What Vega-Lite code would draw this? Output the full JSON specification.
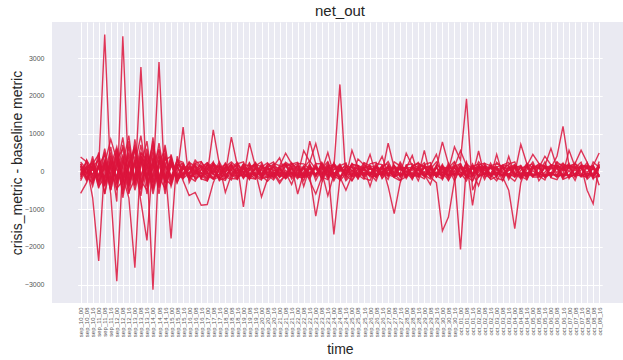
{
  "$schema": "https://vega.github.io/schema/vega-lite/v6.json",
  "width": 576,
  "height": 281,
  "autosize": {"type": "none"},
  "padding": {"left": 52, "top": 22, "right": 0, "bottom": 57},
  "background": "white",
  "title": {"text": "net_out", "fontSize": 15, "font": "Liberation Sans", "fontWeight": "normal", "color": "#262626", "offset": 3},
  "data": {"values": [
    {"t":"sep_10_00","a":380,"b":-585,"c":120,"d":-90,"e":60,"f":-150,"g":200,"h":30,"i":-40,"j":90,"k":-120,"l":150,"m":-60,"n":10,"o":250,"p":-200,"q":150,"r":-100,"s":200,"u":-250},
    {"t":"sep_10_08","a":250,"b":-300,"c":-80,"d":150,"e":-250,"f":100,"g":-60,"h":220,"i":80,"j":-150,"k":40,"l":-200,"m":130,"n":-30,"o":60,"p":300,"q":-200,"r":300,"s":-150,"u":100},
    {"t":"sep_10_16","a":-150,"b":200,"c":300,"d":-700,"e":120,"f":-300,"g":180,"h":-100,"i":250,"j":60,"k":-400,"l":90,"m":-220,"n":150,"o":-80,"p":40,"q":400,"r":-250,"s":-300,"u":200},
    {"t":"sep_11_00","a":100,"b":450,"c":-250,"d":-2377,"e":300,"f":150,"g":-450,"h":350,"i":-120,"j":-300,"k":200,"l":-150,"m":80,"n":-250,"o":180,"p":-100,"q":-350,"r":500,"s":150,"u":-400},
    {"t":"sep_11_08","a":3630,"b":-400,"c":500,"d":200,"e":-300,"f":-600,"g":250,"h":-200,"i":600,"j":150,"k":-250,"l":300,"m":-150,"n":100,"o":-350,"p":220,"q":250,"r":-600,"s":450,"u":-150},
    {"t":"sep_11_16","a":-200,"b":300,"c":-600,"d":850,"e":150,"f":400,"g":-300,"h":500,"i":-200,"j":-500,"k":300,"l":-100,"m":250,"n":-400,"o":120,"p":-250,"q":-500,"r":200,"s":-350,"u":650},
    {"t":"sep_12_00","a":500,"b":-800,"c":-2915,"d":300,"e":650,"f":-200,"g":400,"h":-350,"i":100,"j":250,"k":-150,"l":600,"m":-300,"n":200,"o":-500,"p":80,"q":300,"r":-450,"s":550,"u":-300},
    {"t":"sep_12_08","a":-350,"b":3580,"c":200,"d":-500,"e":-150,"f":700,"g":-600,"h":300,"i":900,"j":-200,"k":450,"l":-300,"m":150,"n":-100,"o":300,"p":-400,"q":600,"r":-250,"s":-700,"u":400},
    {"t":"sep_12_16","a":800,"b":-300,"c":950,"d":150,"e":-700,"f":-100,"g":300,"h":-450,"i":-250,"j":500,"k":-350,"l":250,"m":-600,"n":400,"o":-150,"p":200,"q":-400,"r":650,"s":200,"u":-550},
    {"t":"sep_13_00","a":-400,"b":600,"c":-300,"d":700,"e":-2553,"f":250,"g":-150,"h":850,"i":300,"j":-350,"k":200,"l":-500,"m":400,"n":-200,"o":600,"p":-300,"q":200,"r":-300,"s":600,"u":-200},
    {"t":"sep_13_08","a":300,"b":-500,"c":2765,"d":-350,"e":400,"f":-800,"g":700,"h":-200,"i":-450,"j":300,"k":950,"l":150,"m":-250,"n":500,"o":-100,"p":350,"q":-650,"r":400,"s":-250,"u":500},
    {"t":"sep_13_16","a":-250,"b":200,"c":-400,"d":500,"e":150,"f":-1830,"g":-300,"h":600,"i":350,"j":-600,"k":-200,"l":800,"m":100,"n":-350,"o":250,"p":-150,"q":450,"r":-200,"s":-500,"u":300},
    {"t":"sep_14_00","a":600,"b":-3135,"c":300,"d":-200,"e":-500,"f":400,"g":900,"h":-300,"i":-150,"j":200,"k":500,"l":-400,"m":700,"n":100,"o":-600,"p":250,"q":-300,"r":800,"s":350,"u":-450},
    {"t":"sep_14_08","a":-300,"b":400,"c":-600,"d":2900,"e":300,"f":-250,"g":-400,"h":450,"i":750,"j":-300,"k":-150,"l":250,"m":-200,"n":600,"o":150,"p":-450,"q":550,"r":-350,"s":-150,"u":200},
    {"t":"sep_14_16","a":200,"b":-200,"c":400,"d":-500,"e":-300,"f":700,"g":150,"h":-600,"i":-200,"j":400,"k":300,"l":-150,"m":500,"n":-300,"o":-250,"p":150,"q":-200,"r":250,"s":-450,"u":600},
    {"t":"sep_15_00","a":-150,"b":300,"c":-200,"d":250,"e":450,"f":-300,"g":-1780,"h":200,"i":-350,"j":-150,"k":400,"l":300,"m":-250,"n":150,"o":350,"p":-200,"q":300,"r":-400,"s":200,"u":-300},
    {"t":"sep_15_08","a":300,"b":-150,"c":150,"d":-300,"e":-200,"f":250,"g":400,"h":-100,"i":200,"j":150,"k":-300,"l":-200,"m":100,"n":-150,"o":-100,"p":300,"q":-100,"r":150,"s":-250,"u":180},
    {"t":"sep_15_16","a":-100,"b":150,"c":-200,"d":100,"e":-50,"f":200,"g":-150,"h":1175,"i":80,"j":-250,"k":120,"l":60,"m":-80,"n":180,"o":-120,"p":240,"q":-180,"r":200,"s":-60,"u":130},
    {"t":"sep_16_00","a":120,"b":-80,"c":150,"d":-200,"e":100,"f":-120,"g":250,"h":-300,"i":-60,"j":-640,"k":-150,"l":200,"m":50,"n":-100,"o":80,"p":-200,"q":-60,"r":-150,"s":240,"u":-220},
    {"t":"sep_16_08","a":60,"b":220,"c":-30,"d":40,"e":-180,"f":160,"g":-90,"h":10,"i":300,"j":-560,"k":-70,"l":-210,"m":130,"n":-140,"o":30,"p":-20,"q":220,"r":-260,"s":130,"u":180},
    {"t":"sep_16_16","a":170,"b":90,"c":-140,"d":-60,"e":-40,"f":-200,"g":140,"h":-160,"i":120,"j":-900,"k":250,"l":-90,"m":-180,"n":60,"o":-130,"p":110,"q":260,"r":40,"s":-200,"u":-40},
    {"t":"sep_17_00","a":-30,"b":-120,"c":180,"d":160,"e":-210,"f":70,"g":-20,"h":90,"i":-80,"j":-880,"k":60,"l":-250,"m":190,"n":-150,"o":-40,"p":230,"q":-40,"r":230,"s":-250,"u":-190},
    {"t":"sep_17_08","a":210,"b":-200,"c":50,"d":-90,"e":60,"f":-80,"g":-160,"h":240,"i":1100,"j":-300,"k":180,"l":20,"m":-30,"n":140,"o":-200,"p":-60,"q":-210,"r":100,"s":180,"u":250},
    {"t":"sep_17_16","a":90,"b":40,"c":-230,"d":-150,"e":150,"f":250,"g":-70,"h":-40,"i":200,"j":80,"k":-200,"l":-110,"m":170,"n":-10,"o":120,"p":-170,"q":-150,"r":-180,"s":60,"u":-240},
    {"t":"sep_18_00","a":-160,"b":-20,"c":-180,"d":120,"e":-30,"f":-60,"g":200,"h":-200,"i":-120,"j":190,"k":-50,"l":220,"m":-560,"n":100,"o":30,"p":-100,"q":120,"r":-240,"s":-130,"u":70},
    {"t":"sep_18_08","a":-70,"b":180,"c":140,"d":20,"e":200,"f":-190,"g":-150,"h":130,"i":60,"j":-100,"k":910,"l":-40,"m":-90,"n":-80,"o":160,"p":90,"q":250,"r":60,"s":-230,"u":200},
    {"t":"sep_18_16","a":40,"b":-150,"c":-60,"d":200,"e":-140,"f":-200,"g":30,"h":-30,"i":-210,"j":120,"k":150,"l":80,"m":-200,"n":-130,"o":-80,"p":240,"q":90,"r":190,"s":200,"u":-160},
    {"t":"sep_19_00","a":-150,"b":-90,"c":200,"d":-80,"e":110,"f":180,"g":-10,"h":120,"i":100,"j":-150,"k":-945,"l":-170,"m":60,"n":70,"o":180,"p":-30,"q":-190,"r":-30,"s":250,"u":-50},
    {"t":"sep_19_08","a":30,"b":140,"c":-150,"d":-180,"e":-120,"f":150,"g":80,"h":-100,"i":-200,"j":-40,"k":200,"l":750,"m":-120,"n":80,"o":-210,"p":-150,"q":30,"r":-210,"s":-80,"u":230},
    {"t":"sep_19_16","a":190,"b":150,"c":100,"d":-200,"e":-20,"f":-100,"g":220,"h":200,"i":-60,"j":-120,"k":-100,"l":120,"m":60,"n":-150,"o":120,"p":70,"q":240,"r":150,"s":-200,"u":-140},
    {"t":"sep_20_00","a":120,"b":-60,"c":-160,"d":80,"e":-680,"f":30,"g":-120,"h":-80,"i":150,"j":60,"k":-190,"l":-150,"m":-80,"n":200,"o":-60,"p":-200,"q":-120,"r":250,"s":110,"u":-230},
    {"t":"sep_20_08","a":-110,"b":80,"c":40,"d":120,"e":-200,"f":-150,"g":200,"h":-170,"i":-30,"j":-80,"k":-150,"l":100,"m":150,"n":-100,"o":-20,"p":80,"q":-260,"r":-90,"s":230,"u":160},
    {"t":"sep_20_16","a":-20,"b":-190,"c":120,"d":180,"e":-40,"f":210,"g":90,"h":-60,"i":110,"j":-160,"k":30,"l":-80,"m":-150,"n":140,"o":-120,"p":40,"q":-80,"r":-230,"s":-20,"u":250},
    {"t":"sep_21_00","a":-150,"b":60,"c":80,"d":-160,"e":-100,"f":150,"g":-20,"h":-320,"i":-150,"j":120,"k":-60,"l":110,"m":100,"n":360,"o":80,"p":-50,"q":150,"r":20,"s":-260,"u":-90},
    {"t":"sep_21_08","a":140,"b":-60,"c":-200,"d":30,"e":150,"f":480,"g":-100,"h":-80,"i":-40,"j":180,"k":200,"l":-120,"m":190,"n":-70,"o":-150,"p":-180,"q":210,"r":240,"s":-100,"u":-180},
    {"t":"sep_21_16","a":210,"b":120,"c":-40,"d":-150,"e":-80,"f":200,"g":80,"h":-150,"i":-350,"j":-200,"k":-100,"l":-30,"m":120,"n":-60,"o":100,"p":60,"q":-30,"r":130,"s":190,"u":230},
    {"t":"sep_22_00","a":60,"b":-600,"c":-100,"d":200,"e":-110,"f":-80,"g":-150,"h":40,"i":100,"j":-20,"k":150,"l":-100,"m":210,"n":-130,"o":-120,"p":130,"q":-200,"r":-170,"s":240,"u":10},
    {"t":"sep_22_08","a":-120,"b":-30,"c":550,"d":-400,"e":-60,"f":120,"g":-170,"h":80,"i":-100,"j":-150,"k":-120,"l":150,"m":200,"n":-100,"o":80,"p":100,"q":100,"r":-50,"s":-140,"u":-250},
    {"t":"sep_22_16","a":-20,"b":-200,"c":250,"d":120,"e":800,"f":-150,"g":-100,"h":-120,"i":150,"j":100,"k":80,"l":-80,"m":60,"n":120,"o":-100,"p":-250,"q":280,"r":200,"s":-40,"u":170},
    {"t":"sep_23_00","a":-100,"b":120,"c":740,"d":-120,"e":200,"f":150,"g":120,"h":-1190,"i":-80,"j":-100,"k":-150,"l":100,"m":80,"n":-80,"o":150,"p":-600,"q":60,"r":-240,"s":210,"u":-110},
    {"t":"sep_23_08","a":120,"b":-40,"c":100,"d":210,"e":200,"f":-200,"g":-80,"h":-300,"i":20,"j":150,"k":90,"l":-120,"m":-10,"n":150,"o":-80,"p":-150,"q":-150,"r":80,"s":-230,"u":240},
    {"t":"sep_23_16","a":60,"b":150,"c":-120,"d":-30,"e":-150,"f":100,"g":230,"h":100,"i":500,"j":-80,"k":-200,"l":180,"m":-650,"n":-120,"o":40,"p":100,"q":-220,"r":260,"s":120,"u":-30},
    {"t":"sep_24_00","a":100,"b":-80,"c":210,"d":200,"e":-20,"f":-1670,"g":-120,"h":50,"i":-100,"j":-60,"k":150,"l":-150,"m":-80,"n":230,"o":-150,"p":-250,"q":40,"r":-130,"s":180,"u":-200},
    {"t":"sep_24_08","a":2305,"b":120,"c":30,"d":-150,"e":-200,"f":-200,"g":90,"h":150,"i":170,"j":-150,"k":-10,"l":60,"m":120,"n":-150,"o":100,"p":80,"q":190,"r":-210,"s":-250,"u":150},
    {"t":"sep_24_16","a":-200,"b":-50,"c":150,"d":-500,"e":60,"f":100,"g":-100,"h":-120,"i":-150,"j":40,"k":200,"l":-100,"m":-250,"n":120,"o":-80,"p":20,"q":-100,"r":110,"s":-60,"u":220},
    {"t":"sep_25_00","a":30,"b":180,"c":100,"d":-100,"e":-120,"f":-40,"g":-60,"h":210,"i":560,"j":-120,"k":-150,"l":120,"m":-60,"n":10,"o":150,"p":-110,"q":-250,"r":30,"s":200,"u":-240},
    {"t":"sep_25_08","a":-100,"b":160,"c":70,"d":150,"e":-90,"f":-100,"g":-20,"h":-80,"i":100,"j":330,"k":-60,"l":-150,"m":-120,"n":150,"o":-200,"p":60,"q":-20,"r":-190,"s":130,"u":80},
    {"t":"sep_25_16","a":150,"b":80,"c":-150,"d":20,"e":-210,"f":120,"g":100,"h":-30,"i":-100,"j":170,"k":90,"l":60,"m":-70,"n":-80,"o":80,"p":-40,"q":230,"r":220,"s":-180,"u":-120},
    {"t":"sep_26_00","a":60,"b":-150,"c":100,"d":450,"e":120,"f":50,"g":-120,"h":-100,"i":-20,"j":120,"k":150,"l":-80,"m":-100,"n":-40,"o":-400,"p":-80,"q":150,"r":-60,"s":-240,"u":200},
    {"t":"sep_26_08","a":40,"b":-120,"c":-120,"d":-100,"e":-100,"f":100,"g":150,"h":120,"i":-150,"j":-80,"k":80,"l":150,"m":20,"n":-150,"o":120,"p":210,"q":-180,"r":-250,"s":90,"u":240},
    {"t":"sep_26_16","a":-100,"b":-20,"c":-50,"d":150,"e":-60,"f":-120,"g":-180,"h":60,"i":100,"j":150,"k":400,"l":-20,"m":-80,"n":120,"o":-100,"p":180,"q":80,"r":140,"s":-30,"u":-190},
    {"t":"sep_27_00","a":150,"b":100,"c":750,"d":-120,"e":-120,"f":150,"g":60,"h":100,"i":-120,"j":-400,"k":-100,"l":100,"m":150,"n":-100,"o":-30,"p":-90,"q":260,"r":200,"s":-210,"u":40},
    {"t":"sep_27_08","a":-40,"b":-150,"c":100,"d":100,"e":150,"f":-100,"g":-150,"h":-20,"i":150,"j":-1120,"k":120,"l":-150,"m":30,"n":150,"o":-120,"p":-150,"q":-60,"r":-100,"s":250,"u":-160},
    {"t":"sep_27_16","a":100,"b":200,"c":60,"d":-150,"e":30,"f":-80,"g":100,"h":150,"i":-100,"j":-300,"k":-150,"l":-40,"m":100,"n":-120,"o":100,"p":-60,"q":-230,"r":250,"s":140,"u":-250},
    {"t":"sep_28_00","a":90,"b":-100,"c":-20,"d":120,"e":120,"f":-150,"g":-120,"h":-100,"i":20,"j":150,"k":100,"l":-100,"m":-150,"n":100,"o":-150,"p":480,"q":-140,"r":-30,"s":-190,"u":170},
    {"t":"sep_28_08","a":420,"b":-30,"c":80,"d":-100,"e":-150,"f":100,"g":150,"h":-60,"i":-150,"j":-100,"k":-220,"l":150,"m":120,"n":90,"o":120,"p":150,"q":110,"r":-200,"s":60,"u":200},
    {"t":"sep_28_16","a":-100,"b":-150,"c":150,"d":60,"e":100,"f":-120,"g":210,"h":-150,"i":-60,"j":120,"k":150,"l":30,"m":-100,"n":50,"o":-100,"p":200,"q":240,"r":80,"s":-250,"u":-100},
    {"t":"sep_29_00","a":-40,"b":100,"c":120,"d":-120,"e":-30,"f":150,"g":120,"h":100,"i":-120,"j":-150,"k":-100,"l":-80,"m":150,"n":-100,"o":556,"p":120,"q":-90,"r":230,"s":180,"u":-200},
    {"t":"sep_29_08","a":-120,"b":140,"c":100,"d":100,"e":150,"f":60,"g":-150,"h":-120,"i":150,"j":20,"k":120,"l":-350,"m":-120,"n":-30,"o":-120,"p":-50,"q":-200,"r":-150,"s":230,"u":60},
    {"t":"sep_29_16","a":100,"b":450,"c":-150,"d":-150,"e":-100,"f":-60,"g":-300,"h":150,"i":-100,"j":-120,"k":-150,"l":120,"m":-20,"n":-120,"o":100,"p":100,"q":170,"r":-60,"s":-120,"u":250},
    {"t":"sep_30_00","a":780,"b":-120,"c":120,"d":-20,"e":100,"f":-100,"g":-1580,"h":-220,"i":150,"j":60,"k":120,"l":-150,"m":-30,"n":150,"o":-120,"p":-150,"q":50,"r":190,"s":-200,"u":-30},
    {"t":"sep_30_08","a":200,"b":30,"c":80,"d":-100,"e":-120,"f":150,"g":-1210,"h":100,"i":-40,"j":-150,"k":-100,"l":220,"m":150,"n":-100,"o":100,"p":20,"q":-160,"r":-240,"s":90,"u":-230},
    {"t":"sep_30_16","a":-100,"b":650,"c":100,"d":150,"e":-60,"f":-20,"g":-240,"h":-150,"i":120,"j":100,"k":-50,"l":-100,"m":90,"n":120,"o":-250,"p":-100,"q":230,"r":20,"s":260,"u":140},
    {"t":"oct_01_00","a":150,"b":300,"c":-120,"d":30,"e":-2067,"f":100,"g":150,"h":120,"i":550,"j":-120,"k":-100,"l":150,"m":-20,"n":-150,"o":100,"p":150,"q":-40,"r":210,"s":-150,"u":200},
    {"t":"oct_01_08","a":-20,"b":1925,"c":150,"d":100,"e":200,"f":-150,"g":-100,"h":60,"i":150,"j":220,"k":250,"l":-120,"m":-150,"n":40,"o":-120,"p":-100,"q":-250,"r":-180,"s":30,"u":-120},
    {"t":"oct_01_16","a":100,"b":-500,"c":-100,"d":-150,"e":60,"f":120,"g":150,"h":-30,"i":-100,"j":-100,"k":-900,"l":100,"m":100,"n":-120,"o":150,"p":200,"q":130,"r":-90,"s":-240,"u":-260},
    {"t":"oct_02_00","a":60,"b":-120,"c":540,"d":120,"e":120,"f":-100,"g":20,"h":-380,"i":120,"j":150,"k":150,"l":-150,"m":-120,"n":150,"o":-30,"p":-150,"q":200,"r":260,"s":170,"u":60},
    {"t":"oct_02_08","a":120,"b":-60,"c":-150,"d":-220,"e":-100,"f":150,"g":100,"h":120,"i":80,"j":20,"k":-100,"l":-50,"m":-30,"n":-100,"o":150,"p":160,"q":-70,"r":40,"s":220,"u":210},
    {"t":"oct_02_16","a":-100,"b":-40,"c":-60,"d":150,"e":150,"f":70,"g":-150,"h":-100,"i":100,"j":100,"k":120,"l":-100,"m":110,"n":220,"o":-120,"p":-120,"q":-190,"r":-220,"s":-90,"u":150},
    {"t":"oct_03_00","a":40,"b":120,"c":-100,"d":200,"e":60,"f":100,"g":450,"h":-20,"i":-120,"j":50,"k":-50,"l":-30,"m":120,"n":-150,"o":100,"p":-60,"q":240,"r":-130,"s":-250,"u":-180},
    {"t":"oct_03_08","a":-120,"b":160,"c":150,"d":120,"e":-20,"f":-150,"g":-100,"h":-120,"i":150,"j":120,"k":100,"l":-120,"m":-150,"n":100,"o":-250,"p":-100,"q":90,"r":170,"s":40,"u":-230},
    {"t":"oct_03_16","a":-60,"b":150,"c":-220,"d":-150,"e":-150,"f":-500,"g":120,"h":100,"i":30,"j":-100,"k":80,"l":400,"m":100,"n":-120,"o":120,"p":20,"q":-130,"r":240,"s":190,"u":90},
    {"t":"oct_04_00","a":-150,"b":-120,"c":100,"d":-60,"e":150,"f":-1520,"g":-150,"h":-50,"i":120,"j":150,"k":150,"l":-100,"m":90,"n":150,"o":-100,"p":80,"q":-260,"r":-60,"s":250,"u":180},
    {"t":"oct_04_08","a":120,"b":-40,"c":-150,"d":-120,"e":-100,"f":-300,"g":-70,"h":715,"i":-150,"j":-120,"k":-100,"l":120,"m":150,"n":100,"o":150,"p":100,"q":30,"r":-190,"s":-130,"u":-200},
    {"t":"oct_04_16","a":-100,"b":-150,"c":-40,"d":150,"e":220,"f":150,"g":-120,"h":200,"i":-60,"j":-20,"k":120,"l":-150,"m":-100,"n":120,"o":-120,"p":-220,"q":180,"r":130,"s":-220,"u":40},
    {"t":"oct_05_00","a":150,"b":20,"c":-100,"d":450,"e":90,"f":-120,"g":150,"h":-100,"i":-120,"j":-150,"k":-150,"l":100,"m":120,"n":60,"o":100,"p":150,"q":-110,"r":200,"s":80,"u":250},
    {"t":"oct_05_08","a":80,"b":-100,"c":-60,"d":210,"e":100,"f":-40,"g":-100,"h":120,"i":-90,"j":-150,"k":100,"l":160,"m":-150,"n":100,"o":140,"p":-100,"q":-40,"r":-250,"s":200,"u":-120},
    {"t":"oct_05_16","a":100,"b":150,"c":-120,"d":120,"e":-120,"f":-150,"g":120,"h":-150,"i":-100,"j":-100,"k":400,"l":150,"m":100,"n":-120,"o":120,"p":120,"q":250,"r":-20,"s":-170,"u":-230},
    {"t":"oct_06_00","a":60,"b":-120,"c":-30,"d":-150,"e":-80,"f":-60,"g":90,"h":100,"i":-40,"j":150,"k":170,"l":610,"m":-120,"n":-50,"o":140,"p":-150,"q":-170,"r":180,"s":-60,"u":160},
    {"t":"oct_06_08","a":120,"b":100,"c":-150,"d":250,"e":-100,"f":-100,"g":100,"h":400,"i":-150,"j":-120,"k":150,"l":100,"m":150,"n":-100,"o":150,"p":100,"q":-220,"r":90,"s":240,"u":-40},
    {"t":"oct_06_16","a":40,"b":-150,"c":-70,"d":120,"e":120,"f":-90,"g":160,"h":1190,"i":-60,"j":100,"k":80,"l":-150,"m":200,"n":120,"o":30,"p":-120,"q":60,"r":-210,"s":-190,"u":220},
    {"t":"oct_07_00","a":150,"b":120,"c":-100,"d":150,"e":-150,"f":-120,"g":150,"h":150,"i":560,"j":-150,"k":120,"l":120,"m":120,"n":-150,"o":100,"p":150,"q":210,"r":-140,"s":30,"u":-190},
    {"t":"oct_07_08","a":90,"b":-100,"c":40,"d":180,"e":-70,"f":100,"g":-100,"h":60,"i":120,"j":-60,"k":210,"l":-100,"m":130,"n":-90,"o":-150,"p":80,"q":-150,"r":230,"s":-240,"u":100},
    {"t":"oct_07_16","a":100,"b":150,"c":-120,"d":120,"e":-120,"f":-150,"g":120,"h":100,"i":-100,"j":150,"k":560,"l":150,"m":100,"n":-120,"o":120,"p":120,"q":40,"r":-60,"s":170,"u":240},
    {"t":"oct_08_00","a":-150,"b":120,"c":100,"d":160,"e":-50,"f":-120,"g":-150,"h":80,"i":150,"j":-500,"k":240,"l":-120,"m":-30,"n":-60,"o":90,"p":-150,"q":230,"r":-180,"s":120,"u":-210},
    {"t":"oct_08_08","a":120,"b":100,"c":-150,"d":100,"e":-100,"f":-100,"g":100,"h":150,"i":-150,"j":-860,"k":-120,"l":100,"m":150,"n":-100,"o":150,"p":100,"q":-190,"r":250,"s":-200,"u":-50},
    {"t":"oct_08_16","a":-100,"b":-150,"c":120,"d":-120,"e":120,"f":150,"g":-370,"h":-150,"i":100,"j":200,"k":150,"l":-150,"m":485,"n":120,"o":-120,"p":-120,"q":-80,"r":100,"s":260,"u":170}
  ]},
  "transform": [
    {"fold": ["a","b","c","d","e","f","g","h","i","j","k","l","m","n","o","p","q","r","s","u"], "as": ["series", "value"]}
  ],
  "mark": {"type": "line", "color": "#DC143C", "strokeWidth": 1.4, "opacity": 0.85, "clip": true},
  "encoding": {
    "x": {
      "field": "t", "type": "ordinal", "sort": null,
      "scale": {"type": "point", "range": [25.6, 550.2]},
      "axis": {"title": "time", "labelAngle": -90, "labelFontSize": 6, "labelPadding": 4, "titleFontSize": 14, "titlePadding": 6, "grid": true}
    },
    "y": {
      "field": "value", "type": "quantitative",
      "scale": {"domain": [-3490, 3960], "nice": false, "zero": false},
      "axis": {"values": [-3000, -2000, -1000, 0, 1000, 2000, 3000], "format": "d", "title": "crisis_metric - baseline metric", "labelFontSize": 7, "labelPadding": 8, "titleFontSize": 14, "titlePadding": 0}
    },
    "detail": {"field": "series"},
    "order": {"value": null}
  },
  "config": {
    "view": {"fill": "#EAEAF2", "stroke": null},
    "axis": {
      "domain": false, "ticks": false,
      "gridColor": "white", "gridWidth": 1, "gridOpacity": 1,
      "labelFont": "Liberation Sans", "titleFont": "Liberation Sans",
      "labelColor": "#555555", "titleColor": "#262626", "titleFontWeight": "normal"
    }
  }
}
